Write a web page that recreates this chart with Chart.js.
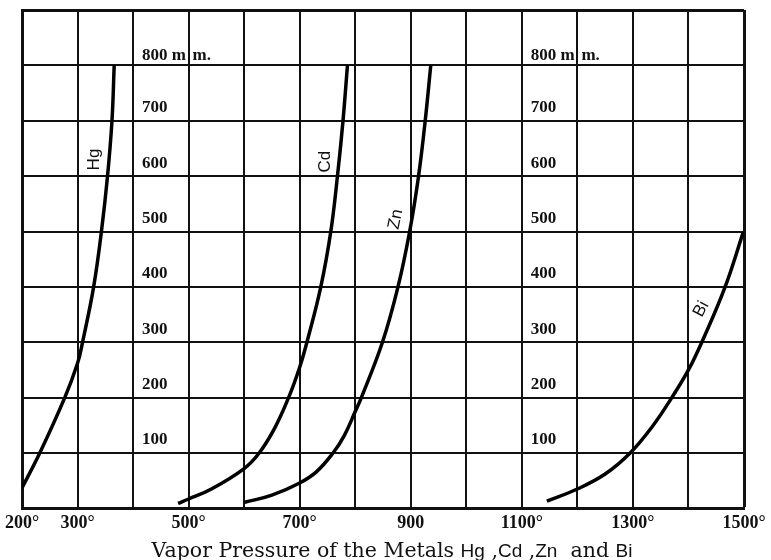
<!DOCTYPE html>
<html>
<head>
<meta charset="utf-8">
<script src="https://cdn.jsdelivr.net/npm/chart.js@4.4.1/dist/chart.umd.min.js"></script>
<style>
  html, body { margin: 0; padding: 0; background: #fff; }
  #wrap { width: 771px; height: 560px; }
</style>
</head>
<body>
<div id="wrap"><canvas id="chart" width="771" height="560"></canvas></div>
<script>
// temperature (deg C) / vapour pressure (mm)
const hgTemp  = [200, 232, 277, 300, 309, 329, 343, 354, 362, 366];
const hgPress = [37, 100, 200, 262, 300, 400, 500, 600, 700, 800];

const cdTemp  = [481, 500, 541, 600, 627, 655, 680, 700, 713, 738, 756, 768, 778, 786];
const cdPress = [9, 17, 35, 72, 100, 145, 200, 255, 300, 400, 500, 600, 700, 800];

const znTemp  = [601, 650, 700, 730, 760, 780, 800, 811, 849, 877, 898, 914, 926, 936];
const znPress = [11, 24, 46, 66, 100, 131, 175, 200, 300, 400, 500, 600, 700, 800];

const biTemp  = [1145, 1200, 1250, 1295, 1335, 1370, 1400, 1424, 1466, 1499];
const biPress = [13, 35, 62, 100, 148, 200, 250, 300, 400, 500];

const xTickValues = [200, 300, 500, 700, 900, 1100, 1300, 1500];
const xTickLabels = ['200°', '300°', '500°', '700°', '900', '1100°', '1300°', '1500°'];
const yTickValues = [100, 200, 300, 400, 500, 600, 700, 800];
const yTickLabels = ['100', '200', '300', '400', '500', '600', '700', '800 m'];

// curve names, where they sit (temp, mm) and their tilt
const curveNames  = ['Hg', 'Cd', 'Zn', 'Bi'];
const nameTemp    = [331, 747, 873, 1423];
const namePress   = [630, 626, 522, 360];
const nameAngle   = [-90, -90, -78, -62];

const INK = '#111';
const SERIF = '"Liberation Serif", serif';
const SANS = '"Liberation Sans", Arial, sans-serif';

const pts = (xs, ys) => xs.map((t, i) => ({ x: t, y: ys[i] }));

// pressure labels printed inside the grid, twice
const insideLabels = {
    id: 'insideLabels',
    afterDatasetsDraw(chart) {
        const { ctx, scales: { x, y } } = chart;
        ctx.save();
        ctx.fillStyle = INK;
        ctx.font = 'bold 17px ' + SERIF;
        ctx.textBaseline = 'middle';
        ctx.textAlign = 'left';
        [400, 1100].forEach(col => {
            const px = x.getPixelForValue(col) + 9;
            yTickValues.forEach((v, i) => {
                ctx.fillText(yTickLabels[i], px, y.getPixelForValue(v) - (v === 800 ? 10 : 13));
            });
            // the "m." of "m m." lands past the next rule
            ctx.fillText('m.', x.getPixelForValue(col + 100) + 4, y.getPixelForValue(800) - 10);
        });

        ctx.font = '17px ' + SANS;
        ctx.textAlign = 'center';
        curveNames.forEach((n, i) => {
            ctx.save();
            ctx.translate(x.getPixelForValue(nameTemp[i]), y.getPixelForValue(namePress[i]));
            ctx.rotate(nameAngle[i] * Math.PI / 180);
            ctx.fillText(n, 0, 0);
            ctx.restore();
        });
        ctx.restore();
    }
};

// caption mixes a serif face with sans for the element symbols
const caption = {
    id: 'caption',
    afterDraw(chart) {
        const { ctx } = chart;
        const parts = [
            ['Vapor Pressure of the Metals ', 0], ['Hg', 1], [' ,', 0], ['Cd', 1],
            [' ,', 0], ['Zn', 1], ['  and ', 0], ['Bi', 1]
        ];
        const fonts = ['20.5px "DejaVu Serif", serif', '19px ' + SANS];
        ctx.save();
        ctx.fillStyle = INK;
        ctx.textBaseline = 'alphabetic';
        let w = 0;
        parts.forEach(p => { ctx.font = fonts[p[1]]; w += ctx.measureText(p[0]).width; });
        let cx = 392 - w / 2;
        parts.forEach(p => {
            ctx.font = fonts[p[1]];
            ctx.fillText(p[0], cx, 557);
            cx += ctx.measureText(p[0]).width;
        });
        ctx.restore();
    }
};

const line = (xs, ys) => ({
    data: pts(xs, ys),
    borderColor: '#000',
    borderWidth: 3.5,
    pointRadius: 0,
    fill: false,
    tension: 0.4
});

new Chart(document.getElementById('chart'), {
    type: 'line',
    data: {
        datasets: [
            line(hgTemp, hgPress),
            line(cdTemp, cdPress),
            line(znTemp, znPress),
            line(biTemp, biPress)
        ]
    },
    options: {
        responsive: false,
        animation: false,
        layout: { padding: { left: 22, right: 27, top: 10, bottom: 22 } },
        plugins: { legend: { display: false }, tooltip: { enabled: false } },
        scales: {
            x: {
                type: 'linear',
                min: 200, max: 1500,
                grid: {
                    color: INK,
                    lineWidth: c => (c.tick && c.tick.value === 1500 ? 3 : 2),
                    drawTicks: false
                },
                border: { color: INK, width: 3 },
                ticks: {
                    stepSize: 100,
                    autoSkip: false,
                    maxRotation: 0,
                    padding: 4,
                    color: INK,
                    font: { family: SERIF, weight: 'bold', size: 18 },
                    callback: v => {
                        const i = xTickValues.indexOf(v);
                        return i < 0 ? '' : xTickLabels[i];
                    }
                }
            },
            y: {
                min: 0, max: 900,
                grid: {
                    color: INK,
                    lineWidth: c => (c.tick && c.tick.value === 900 ? 3 : 2),
                    drawTicks: false
                },
                border: { color: INK, width: 3 },
                ticks: { stepSize: 100, display: false }
            }
        }
    },
    plugins: [insideLabels, caption]
});
</script>
</body>
</html>
